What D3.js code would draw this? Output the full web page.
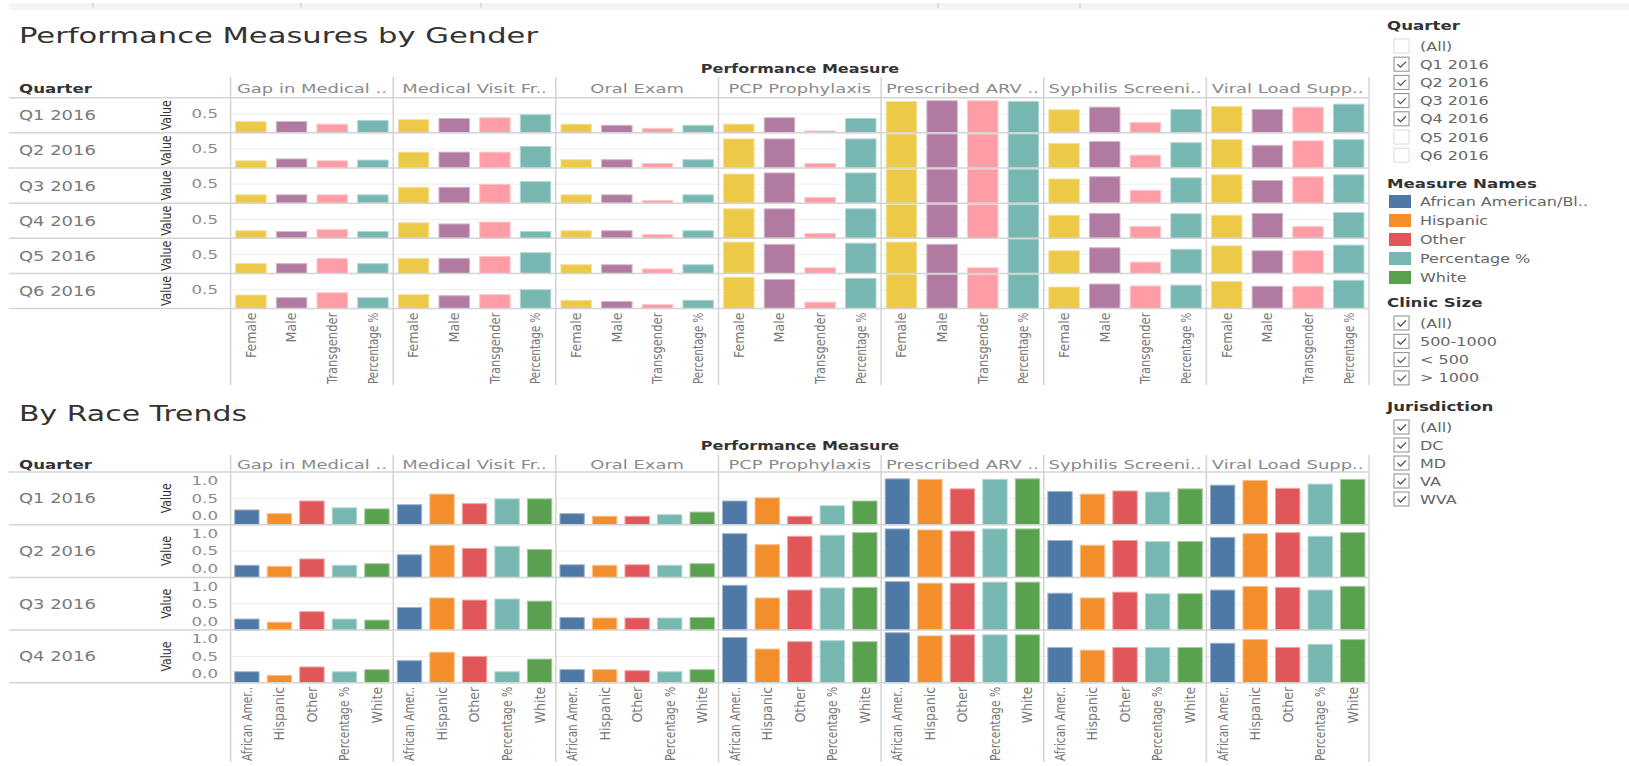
<!DOCTYPE html>
<html>
<head>
<meta charset="utf-8">
<script src="https://cdn.jsdelivr.net/npm/d3@7"></script>
<style>
  html, body { margin: 0; padding: 0; background: #fff; }
  svg { display: block; }
</style>
</head>
<body>
<div id="dash"></div>
<script>
// ── Data ──────────────────────────────────────────────────────────────────────
const MEASURES = ["Gap in Medical ..", "Medical Visit Fr..", "Oral Exam", "PCP Prophylaxis",
                  "Prescribed ARV ..", "Syphilis Screeni..", "Viral Load Supp.."];

const QUARTERS_GENDER = ["Q1 2016", "Q2 2016", "Q3 2016", "Q4 2016", "Q5 2016", "Q6 2016"];
const QUARTERS_RACE   = ["Q1 2016", "Q2 2016", "Q3 2016", "Q4 2016"];

const GENDERS     = ["Female", "Male", "Transgender", "Percentage %"];
const RACES       = ["African American/Black", "Hispanic", "Other", "Percentage %", "White"];
const RACE_LABELS = ["African Amer..", "Hispanic", "Other", "Percentage %", "White"];

const GENDER_TICKS = [0.5];
const RACE_TICKS   = [0, 0.5, 1.0];

// rows = quarters, columns = genders
const gapGender   = [[0.30, 0.30, 0.23, 0.33], [0.19, 0.24, 0.19, 0.21], [0.22, 0.22, 0.22, 0.22],
                     [0.20, 0.18, 0.23, 0.18], [0.26, 0.26, 0.40, 0.26], [0.36, 0.29, 0.42, 0.29]];
const visitGender = [[0.35, 0.38, 0.40, 0.48], [0.42, 0.42, 0.42, 0.57], [0.42, 0.42, 0.50, 0.57],
                     [0.41, 0.38, 0.43, 0.18], [0.40, 0.40, 0.45, 0.55], [0.37, 0.34, 0.37, 0.50]];
const oralGender  = [[0.23, 0.20, 0.12, 0.20], [0.22, 0.22, 0.12, 0.22], [0.22, 0.22, 0.07, 0.22],
                     [0.20, 0.20, 0.10, 0.20], [0.23, 0.23, 0.12, 0.23], [0.22, 0.19, 0.11, 0.22]];
const pcpGender   = [[0.23, 0.40, 0.05, 0.38], [0.77, 0.77, 0.12, 0.77], [0.77, 0.80, 0.15, 0.80],
                     [0.78, 0.78, 0.13, 0.78], [0.83, 0.77, 0.15, 0.80], [0.83, 0.77, 0.17, 0.80]];
const arvGender   = [[0.83, 0.85, 0.85, 0.83], [0.90, 0.90, 0.90, 0.90], [0.90, 0.90, 0.90, 0.90],
                     [0.89, 0.89, 0.89, 0.89], [0.83, 0.77, 0.15, 0.91], [0.90, 0.90, 0.90, 0.90]];
const syphGender  = [[0.61, 0.68, 0.27, 0.62], [0.65, 0.70, 0.34, 0.67], [0.64, 0.70, 0.34, 0.67],
                     [0.61, 0.66, 0.31, 0.65], [0.60, 0.68, 0.30, 0.64], [0.57, 0.65, 0.60, 0.62]];
const viralGender = [[0.70, 0.62, 0.68, 0.76], [0.75, 0.60, 0.72, 0.75], [0.75, 0.60, 0.70, 0.75],
                     [0.61, 0.66, 0.31, 0.68], [0.73, 0.60, 0.60, 0.75], [0.72, 0.59, 0.59, 0.75]];

// rows = quarters, columns = races
const gapRace   = [[0.28, 0.21, 0.45, 0.32, 0.30], [0.23, 0.21, 0.35, 0.23, 0.26],
                   [0.21, 0.15, 0.35, 0.21, 0.19], [0.21, 0.14, 0.30, 0.21, 0.25]];
const visitRace = [[0.38, 0.58, 0.40, 0.49, 0.49], [0.43, 0.61, 0.55, 0.59, 0.53],
                   [0.43, 0.61, 0.57, 0.59, 0.55], [0.42, 0.58, 0.50, 0.21, 0.45]];
const oralRace  = [[0.21, 0.16, 0.16, 0.19, 0.24], [0.24, 0.23, 0.24, 0.23, 0.26],
                   [0.24, 0.23, 0.23, 0.23, 0.24], [0.25, 0.25, 0.23, 0.21, 0.25]];
const pcpRace   = [[0.45, 0.51, 0.16, 0.36, 0.45], [0.83, 0.62, 0.78, 0.80, 0.85],
                   [0.85, 0.61, 0.76, 0.80, 0.81], [0.86, 0.64, 0.78, 0.80, 0.78]];
const arvRace   = [[0.87, 0.86, 0.68, 0.86, 0.87], [0.92, 0.90, 0.88, 0.92, 0.92],
                   [0.92, 0.89, 0.89, 0.91, 0.91], [0.95, 0.89, 0.91, 0.91, 0.91]];
const syphRace  = [[0.63, 0.58, 0.64, 0.62, 0.68], [0.70, 0.61, 0.70, 0.68, 0.68],
                   [0.70, 0.61, 0.72, 0.69, 0.69], [0.67, 0.62, 0.67, 0.67, 0.67]];
const viralRace = [[0.75, 0.84, 0.69, 0.77, 0.86], [0.76, 0.83, 0.85, 0.78, 0.85],
                   [0.76, 0.83, 0.81, 0.76, 0.83], [0.75, 0.82, 0.67, 0.73, 0.82]];

// filter cards
const QUARTER_FILTER  = ["(All)", "Q1 2016", "Q2 2016", "Q3 2016", "Q4 2016", "Q5 2016", "Q6 2016"];
const QUARTER_CHECKED = [false, true, true, true, true, false, false];
const LEGEND_NAMES    = ["African American/Bl..", "Hispanic", "Other", "Percentage %", "White"];
const CLINIC_SIZES    = ["(All)", "500-1000", "< 500", "> 1000"];
const JURISDICTIONS   = ["(All)", "DC", "MD", "VA", "WVA"];

// ── Config ────────────────────────────────────────────────────────────────────
const W = 1629, H = 766;
const FONT   = "'DejaVu Sans', 'Open Sans', sans-serif";
const NARROW = "'Liberation Sans Narrow', 'DejaVu Sans Condensed', 'Arial Narrow', 'Liberation Sans', sans-serif";
const WIDE   = 1.28;               // the dashboard text is drawn stretched sideways
const LINE   = "#d4d4d4";
const PANE_X0 = 230.6, PANE_X1 = 1369;

const GENDER_COLORS = ["#EDC948", "#B07AA1", "#FF9DA7", "#76B7B2"];
const RACE_COLORS   = ["#4E79A7", "#F28E2B", "#E15759", "#76B7B2", "#59A14F"];

// ── SVG ───────────────────────────────────────────────────────────────────────
const svg = d3.select("#dash").append("svg")
  .attr("width", W).attr("height", H)
  .style("font-family", FONT);

function widen(sel, k = WIDE) {
  sel.each(function () {
    const len = this.getComputedTextLength();
    d3.select(this).attr("textLength", len * k).attr("lengthAdjust", "spacingAndGlyphs");
  });
  return sel;
}

// squeeze a text so it never runs longer than max
function fit(sel, max) {
  sel.each(function () {
    if (this.getComputedTextLength() > max) {
      d3.select(this).attr("textLength", max).attr("lengthAdjust", "spacingAndGlyphs");
    }
  });
  return sel;
}

// toolbar strip at the very top
svg.append("rect").attr("x", 9).attr("y", 3).attr("width", W - 9).attr("height", 7).attr("fill", "#f4f4f4");
[93, 301, 481, 938, 1080].forEach(x => {
  svg.append("line").attr("x1", x).attr("x2", x).attr("y1", 3).attr("y2", 8)
    .attr("stroke", "#c8c8c8");
});

// ── Trellis of bar panes ──────────────────────────────────────────────────────
function drawTrellis(o) {
  const g = svg.append("g");

  const colX = d3.scaleBand().domain(MEASURES).range([PANE_X0, PANE_X1]);
  const catX = d3.scaleBand().domain(o.cats).range([0, colX.bandwidth()])
    .paddingInner(0.25).paddingOuter(0.125);
  const rowY = d3.scaleBand().domain(o.quarters).range([o.rowsTop, o.rowsBottom]);
  const y = d3.scaleLinear().domain([0, o.yMax]).range([rowY.bandwidth(), 0]);
  const color = d3.scaleOrdinal().domain(o.cats).range(o.colors);

  // titles
  g.append("text").attr("x", 19).attr("y", o.titleY)
    .attr("font-size", 21).attr("fill", "#333")
    .attr("textLength", o.titleLen).attr("lengthAdjust", "spacingAndGlyphs")
    .text(o.title);

  widen(g.append("text").attr("x", 800).attr("y", o.pmY)
    .attr("text-anchor", "middle").attr("font-size", 12.5).attr("font-weight", "bold")
    .attr("fill", "#333").text("Performance Measure"));

  widen(g.append("text").attr("x", 19).attr("y", o.headerY)
    .attr("font-size", 13).attr("font-weight", "bold").attr("fill", "#333").text("Quarter"));

  widen(g.selectAll(".col-head").data(MEASURES).join("text")
    .attr("class", "col-head")
    .attr("x", d => colX(d) + colX.bandwidth() / 2).attr("y", o.headerY)
    .attr("text-anchor", "middle").attr("font-size", 13).attr("fill", "#8a8a8a")
    .text(d => d), 1.38);

  // rows
  o.quarters.forEach((q, qi) => {
    const row = g.append("g").attr("transform", `translate(0,${rowY(q)})`);
    const bh = rowY.bandwidth();

    o.grid.forEach(v => {
      row.append("line").attr("x1", PANE_X0).attr("x2", PANE_X1)
        .attr("y1", y(v)).attr("y2", y(v)).attr("stroke", "#efefef");
    });

    MEASURES.forEach((m, mi) => {
      row.selectAll(null).data(o.cats).join("rect")
        .attr("x", d => colX(m) + catX(d))
        .attr("width", catX.bandwidth())
        .attr("y", (d, ci) => y(o.values[mi][qi][ci]))
        .attr("height", (d, ci) => bh - y(o.values[mi][qi][ci]))
        .attr("fill", d => color(d))
        .attr("stroke", d => d3.interpolateRgb(color(d), "#fff")(0.45))
        .attr("stroke-width", 1);
    });

    const axis = row.append("g").attr("transform", "translate(218,0)")
      .call(d3.axisLeft(y).tickValues(o.ticks).tickSize(0).tickPadding(0)
        .tickFormat(d3.format(".1f")))
      .call(a => a.select(".domain").remove());
    axis.selectAll(".tick")
      .attr("transform", d => `translate(0,${Math.max(9, Math.min(bh - 8.5, y(d)))})`);
    widen(axis.selectAll("text")
      .attr("font-family", FONT).attr("font-size", 13).attr("fill", "#8a8a8a"));

    fit(row.append("text")
      .attr("transform", `translate(166,${bh / 2}) rotate(-90)`)
      .attr("text-anchor", "middle").attr("dy", "0.35em")
      .attr("font-family", NARROW).attr("font-size", 14.5).attr("fill", "#333")
      .text("Value"), 30);

    widen(row.append("text").attr("x", 19).attr("y", bh / 2).attr("dy", "0.36em")
      .attr("font-size", 14).attr("fill", "#7a7a7a").text(q));
  });

  // separators
  const rowEdges = [o.rowsTop, ...o.quarters.map(q => rowY(q) + rowY.bandwidth())];
  g.selectAll(".row-line").data(rowEdges).join("line")
    .attr("x1", 9).attr("x2", PANE_X1).attr("y1", d => d).attr("y2", d => d)
    .attr("stroke", LINE).attr("stroke-width", 1.5);

  const colEdges = [...MEASURES.map(m => colX(m)), PANE_X1];
  g.selectAll(".col-line").data(colEdges).join("line")
    .attr("x1", d => d).attr("x2", d => d).attr("y1", o.headerTop).attr("y2", o.labelsBottom)
    .attr("stroke", LINE).attr("stroke-width", 1.5);

  // category labels under each pane
  const labelMax = o.labelsBottom - o.rowsBottom - 5;
  MEASURES.forEach(m => {
    fit(g.selectAll(null).data(o.cats).join("text")
      .attr("transform", d =>
        `translate(${colX(m) + catX(d) + catX.bandwidth() / 2},${o.rowsBottom + 4}) rotate(-90)`)
      .attr("text-anchor", "end").attr("dy", "0.35em")
      .attr("font-family", NARROW).attr("font-size", 14).attr("fill", "#777")
      .text((d, i) => o.labels[i]), labelMax);
  });
}

drawTrellis({
  title: "Performance Measures by Gender", titleY: 42.5, titleLen: 519,
  pmY: 73, headerTop: 77, headerY: 92.5,
  rowsTop: 97.7, rowsBottom: 308.6, labelsBottom: 385,
  quarters: QUARTERS_GENDER, cats: GENDERS, labels: GENDERS, colors: GENDER_COLORS,
  values: [gapGender, visitGender, oralGender, pcpGender, arvGender, syphGender, viralGender],
  yMax: 0.93, ticks: GENDER_TICKS, grid: [0.5]
});

drawTrellis({
  title: "By Race Trends", titleY: 420.5, titleLen: 228,
  pmY: 450, headerTop: 455, headerY: 468.5,
  rowsTop: 472, rowsBottom: 682.8, labelsBottom: 762,
  quarters: QUARTERS_RACE, cats: RACES, labels: RACE_LABELS, colors: RACE_COLORS,
  values: [gapRace, visitRace, oralRace, pcpRace, arvRace, syphRace, viralRace],
  yMax: 1.0, ticks: RACE_TICKS, grid: [0.5]
});

// ── Filter cards and colour legend ───────────────────────────────────────────
const LEG_X = 1387, ITEM_X = 1420;

function cardTitle(text, y) {
  widen(svg.append("text").attr("x", LEG_X).attr("y", y).attr("dy", "0.36em")
    .attr("font-size", 13).attr("font-weight", "bold").attr("fill", "#333").text(text));
}

function checkCard(title, items, checked, y0, step) {
  cardTitle(title, y0);
  items.forEach((d, i) => {
    const cy = y0 + 21 + i * step;
    const on = checked[i];
    svg.append("rect").attr("x", 1394).attr("y", cy - 7).attr("width", 15).attr("height", 14)
      .attr("fill", "#fff").attr("stroke", on ? "#8c8c8c" : "#dcdcdc").attr("stroke-width", 1);
    if (on) {
      svg.append("path")
        .attr("d", `M${1397.5},${cy} l3,3 l5.5,-5.5`)
        .attr("fill", "none").attr("stroke", "#555").attr("stroke-width", 1.3);
    }
    widen(svg.append("text").attr("x", ITEM_X).attr("y", cy).attr("dy", "0.36em")
      .attr("font-size", 12.5).attr("fill", "#666").text(d));
  });
}

checkCard("Quarter", QUARTER_FILTER, QUARTER_CHECKED, 25, 18.2);

cardTitle("Measure Names", 183);
LEGEND_NAMES.forEach((d, i) => {
  const cy = 201.5 + i * 19;
  svg.append("rect").attr("x", 1389).attr("y", cy - 6.5).attr("width", 22).attr("height", 13)
    .attr("fill", RACE_COLORS[i]);
  widen(svg.append("text").attr("x", ITEM_X).attr("y", cy).attr("dy", "0.36em")
    .attr("font-size", 12.5).attr("fill", "#666").text(d));
});

checkCard("Clinic Size", CLINIC_SIZES, CLINIC_SIZES.map(() => true), 302, 18.3);
checkCard("Jurisdiction", JURISDICTIONS, JURISDICTIONS.map(() => true), 406, 18);
</script>
</body>
</html>
